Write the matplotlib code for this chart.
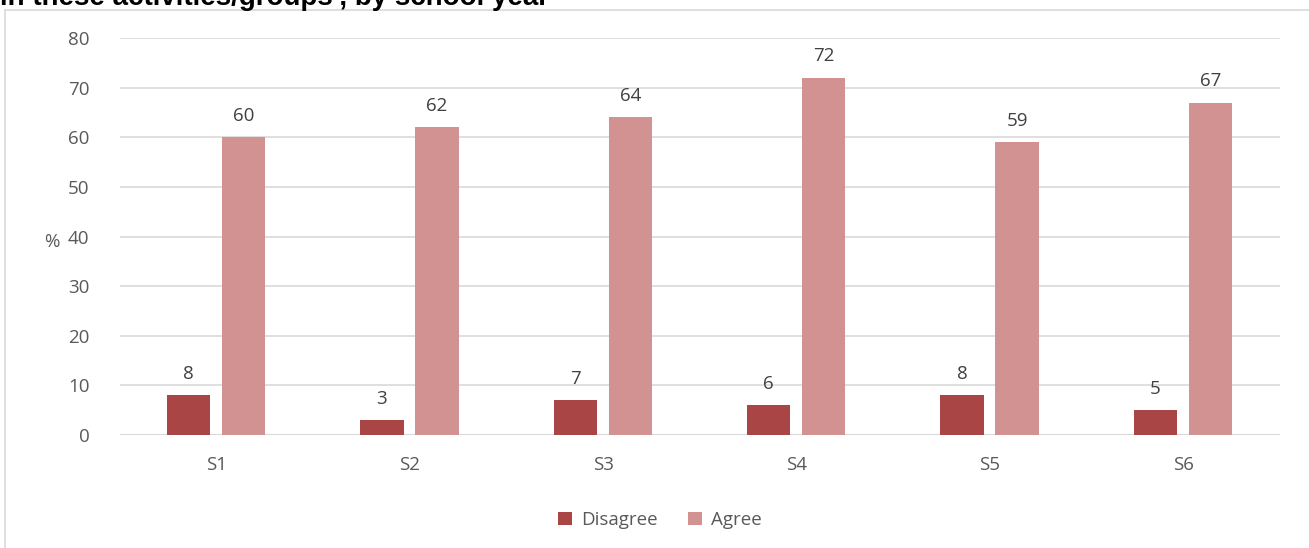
import matplotlib.pyplot as plt
import numpy as np
from matplotlib.lines import Line2D

plt.rcParams["font.family"] = ["Open Sans", "DejaVu Sans"]

categories = ["S1", "S2", "S3", "S4", "S5", "S6"]
disagree = [8, 3, 7, 6, 8, 5]
agree = [60, 62, 64, 72, 59, 67]

c_dis = "#A94545"
c_agr = "#D39292"
grid_c = "#D9D9D9"
txt_c = "#595959"
fs = 13.5

fig = plt.figure(figsize=(13.09, 5.48), dpi=100)
W, H = 1309, 548
ax = fig.add_axes([120 / W, 1 - 435 / H, 1160 / W, (435 - 38) / H])

x = np.arange(len(categories))
w = 0.225
b1 = ax.bar(x - 0.145, disagree, w, color=c_dis, label="Disagree", zorder=3)
b2 = ax.bar(x + 0.14, agree, w, color=c_agr, label="Agree", zorder=3)

for bars, vals in ((b1, disagree), (b2, agree)):
    for r, v in zip(bars, vals):
        ax.annotate(str(v), (r.get_x() + r.get_width() / 2, v),
                    xytext=(0, 9), textcoords="offset points",
                    ha="center", va="bottom", fontsize=fs, color="#404040")

ax.set_xlim(-0.5, len(categories) - 0.5)
ax.set_ylim(0, 80)
ax.set_yticks(range(0, 81, 10))
ax.set_xticks(x)
ax.set_xticklabels(categories)
ax.yaxis.grid(True, color=grid_c, linewidth=1.2, zorder=0)
ax.tick_params(length=0, labelsize=fs, labelcolor=txt_c)
ax.tick_params(axis="y", pad=22)
ax.tick_params(axis="x", pad=15)
for s in ax.spines.values():
    s.set_visible(False)
ax.axhline(0, color=grid_c, linewidth=1.5, zorder=2)

fig.text(52 / W, 1 - 242 / H, "%", ha="center", va="center",
         fontsize=fs, color=txt_c)

ax.legend(loc="center", bbox_to_anchor=(660 / W, 1 - 520 / H),
          bbox_transform=fig.transFigure, ncol=2, frameon=False,
          fontsize=fs, labelcolor=txt_c, handlelength=0.75,
          handleheight=0.75, columnspacing=1.6, handletextpad=0.5)

# outer frame (partially visible)
fig.add_artist(Line2D([5 / W, 1], [1 - 10 / H, 1 - 10 / H],
                      transform=fig.transFigure, color=grid_c, linewidth=1.2))
fig.add_artist(Line2D([5 / W, 5 / W], [0, 1 - 10 / H],
                      transform=fig.transFigure, color=grid_c, linewidth=1.2))

fig.text(0, 1 - 5 / H, "in these activities/groups', by school year",
         ha="left", va="baseline", fontsize=20, fontweight="bold",
         family=["Liberation Sans", "DejaVu Sans"], color="black")

fig.savefig("out.png", dpi=100)
